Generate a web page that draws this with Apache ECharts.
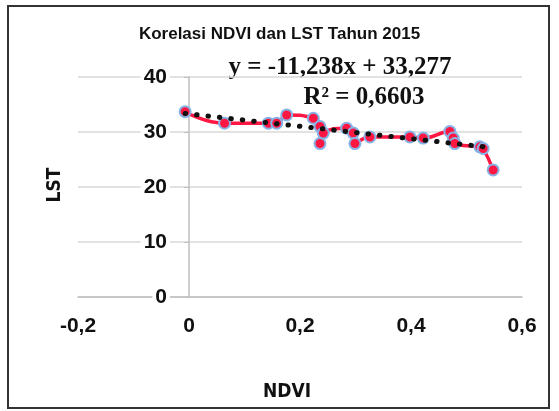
<!DOCTYPE html>
<html>
<head>
<meta charset="utf-8">
<script src="https://cdn.jsdelivr.net/npm/echarts@6/dist/echarts.min.js"></script>
<style>
  html, body { margin: 0; padding: 0; background: #fff; }
  #chart { width: 559px; height: 411px; }
</style>
</head>
<body>
<div id="chart"></div>
<script>
// NDVI vs LST samples (x = NDVI, y = LST)
const ndvi = [-0.007, 0.064, 0.143, 0.158, 0.176, 0.224, 0.236, 0.236, 0.242, 0.284, 0.296, 0.299, 0.326, 0.398, 0.422, 0.470, 0.476, 0.479, 0.524, 0.530, 0.548]
const lst = [33.7, 31.6, 31.6, 31.6, 33.1, 32.5, 31.0, 27.9, 29.8, 30.7, 29.8, 27.9, 29.1, 29.1, 28.9, 30.1, 28.9, 27.9, 27.3, 27.0, 23.1]
// linear trend end points (y = -11,238x + 33,277)
const trendX = [-0.007, 0.548]
const trendY = [33.36, 27.12]
const xTicks = [-0.2, 0, 0.2, 0.4, 0.6]
const yTicks = [0, 10, 20, 30, 40]

const pts = ndvi.map((x, i) => [x, lst[i]])
const trend = trendX.map((x, i) => [x, trendY[i]])

const chart = echarts.init(document.getElementById('chart'))
const sansFont = '"DejaVu Sans Condensed", "Liberation Sans", sans-serif'
const labelFont = { fontFamily: 'Liberation Sans', fontWeight: 'bold', fontSize: 21, color: '#111' }

chart.setOption({
  animation: false,
  title: {
    text: 'Korelasi NDVI dan LST Tahun 2015',
    left: 'center',
    top: 21,
    textStyle: { fontFamily: 'Liberation Sans', fontWeight: 'bold', fontSize: 17, color: '#111' }
  },
  grid: { left: 78, right: 37, top: 77, bottom: 114 },
  xAxis: {
    type: 'value',
    min: xTicks[0],
    max: xTicks[xTicks.length - 1],
    interval: 0.2,
    axisLine: { lineStyle: { color: '#bfbfbf', width: 1.5 } },
    axisTick: { show: false },
    splitLine: { show: false },
    axisLabel: Object.assign({
      margin: 19,
      formatter: v => Math.abs(v) < 1e-9 ? '0' : String(+v.toFixed(1)).replace('.', ',')
    }, labelFont)
  },
  yAxis: {
    type: 'value',
    min: yTicks[0],
    max: yTicks[yTicks.length - 1],
    interval: 10,
    // vertical axis crosses at NDVI = 0
    offset: -111,
    axisLine: { show: true, onZero: false, lineStyle: { color: '#bfbfbf', width: 1.5 } },
    axisTick: { show: true, length: 5, lineStyle: { color: '#bfbfbf' } },
    splitLine: { lineStyle: { color: '#d9d9d9', width: 1.5 } },
    axisLabel: Object.assign({
      margin: 19,
      backgroundColor: '#fff',
      padding: [0, 3]
    }, labelFont)
  },
  graphic: [
    { type: 'rect', shape: { x: 8, y: 6, width: 541, height: 402 }, style: { fill: 'none', stroke: '#333', lineWidth: 2 }, z: -10 },
    { type: 'text', x: 340, y: 68, style: { text: 'y = -11,238x + 33,277', font: 'bold 25px "Liberation Serif"', fill: '#111', align: 'center', verticalAlign: 'middle' } },
    { type: 'text', x: 364, y: 98, style: { text: 'R² = 0,6603', font: 'bold 25px "Liberation Serif"', fill: '#111', align: 'center', verticalAlign: 'middle' } },
    { type: 'text', x: 55, y: 185, rotation: Math.PI / 2, style: { text: 'LST', font: 'bold 19px ' + sansFont, fill: '#111', align: 'center', verticalAlign: 'middle' } },
    { type: 'text', x: 287, y: 392, style: { text: 'NDVI', font: 'bold 19px ' + sansFont, fill: '#111', align: 'center', verticalAlign: 'middle' } }
  ],
  series: [
    {
      type: 'line',
      data: pts,
      smooth: true,
      symbol: 'circle',
      symbolSize: 11,
      lineStyle: { color: '#ff1744', width: 3.5 },
      itemStyle: { color: '#ff1744', borderColor: '#86b4e6', borderWidth: 2 },
      z: 3
    },
    {
      type: 'line',
      data: trend,
      symbol: 'none',
      lineStyle: { color: '#111', width: 5, type: [0.5, 11], cap: 'round' },
      z: 5
    }
  ]
})
</script>
</body>
</html>
